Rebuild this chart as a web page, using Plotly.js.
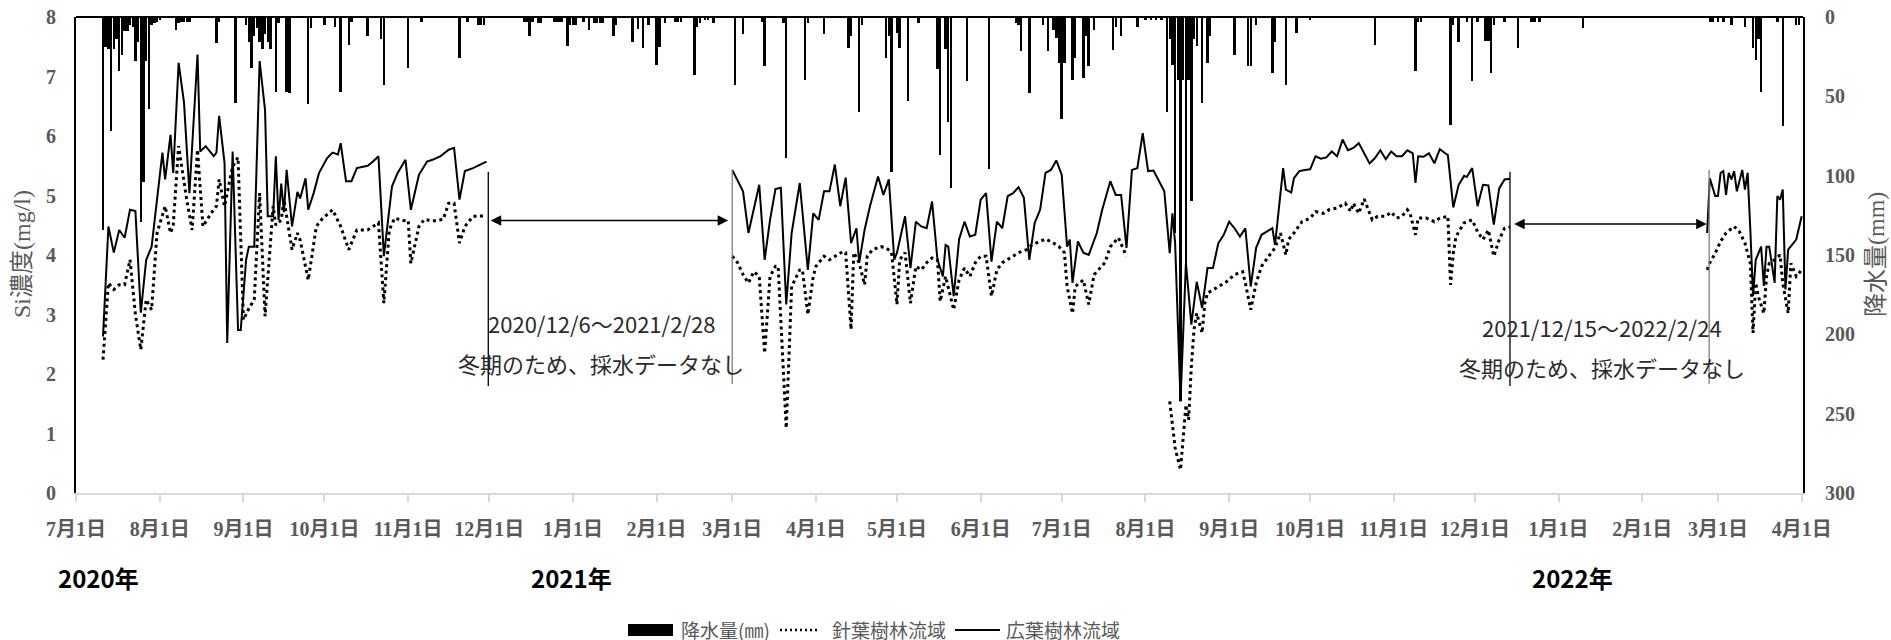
<!DOCTYPE html>
<html>
<head>
<meta charset="utf-8">
<script src="https://cdn.plot.ly/plotly-3.0.1.min.js"></script>
<style>html,body{margin:0;padding:0;background:#fff;}</style>
</head>
<body>
<div id="chart" style="width:1891px;height:640px;"></div>
<script>
// ---------- DATA ----------
// Precipitation (mm), daily
const precipDates = [
'2020-07-11','2020-07-12','2020-07-13','2020-07-14','2020-07-15','2020-07-16','2020-07-17','2020-07-18','2020-07-19','2020-07-20',
'2020-07-21','2020-07-22','2020-07-23','2020-07-24','2020-07-25','2020-07-26','2020-07-27','2020-07-28','2020-07-29','2020-07-30',
'2020-07-31','2020-08-01','2020-08-07','2020-08-08','2020-08-09','2020-08-10','2020-08-11','2020-08-12','2020-08-22','2020-08-23',
'2020-08-29','2020-09-02','2020-09-03','2020-09-04','2020-09-05','2020-09-06','2020-09-07','2020-09-08','2020-09-09','2020-09-10',
'2020-09-11','2020-09-13','2020-09-14','2020-09-17','2020-09-18','2020-09-25','2020-09-26','2020-10-01','2020-10-05','2020-10-07',
'2020-10-10','2020-10-11','2020-10-17','2020-10-22','2020-10-23','2020-11-01','2020-11-06','2020-11-20','2020-11-23','2020-11-27',
'2020-11-28','2020-11-29','2020-12-14','2020-12-15','2020-12-16','2020-12-17','2020-12-19','2020-12-20','2020-12-25','2020-12-26',
'2020-12-27','2020-12-28','2020-12-30','2020-12-31','2021-01-01','2021-01-02','2021-01-05','2021-01-07','2021-01-09','2021-01-10',
'2021-01-11','2021-01-12','2021-01-16','2021-01-17','2021-01-23','2021-01-25','2021-01-27','2021-01-29','2021-02-01','2021-02-02',
'2021-02-04','2021-02-08','2021-02-09','2021-02-10','2021-02-15','2021-02-16','2021-02-17','2021-02-19','2021-02-20','2021-02-22',
'2021-03-02','2021-03-05','2021-03-12','2021-03-13','2021-03-20','2021-03-21','2021-03-28','2021-03-29','2021-04-04','2021-04-13',
'2021-04-14','2021-04-17','2021-04-18','2021-04-27','2021-04-28','2021-04-29','2021-05-01','2021-05-02','2021-05-05','2021-05-09',
'2021-05-16','2021-05-17','2021-05-19','2021-05-20','2021-05-21','2021-05-27','2021-06-04','2021-06-14','2021-06-15','2021-06-16',
'2021-06-19','2021-06-24','2021-06-26','2021-06-28','2021-06-29','2021-06-30','2021-07-01','2021-07-02','2021-07-05','2021-07-06',
'2021-07-09','2021-07-10','2021-07-11','2021-07-13','2021-07-20','2021-07-21','2021-07-23','2021-07-29','2021-08-01','2021-08-03',
'2021-08-05','2021-08-07','2021-08-09','2021-08-10','2021-08-11','2021-08-12','2021-08-13','2021-08-14','2021-08-15','2021-08-16',
'2021-08-17','2021-08-18','2021-08-19','2021-08-20','2021-08-22','2021-08-24','2021-08-25','2021-09-03','2021-09-08','2021-09-09',
'2021-09-11','2021-09-17','2021-09-18','2021-09-22','2021-09-26','2021-10-01','2021-10-25','2021-11-09','2021-11-10','2021-11-11',
'2021-11-22','2021-11-23','2021-11-25','2021-11-28','2021-11-30','2021-12-02','2021-12-05','2021-12-06','2021-12-07','2021-12-08',
'2021-12-12','2021-12-17','2021-12-22','2021-12-23','2021-12-25','2022-01-10','2022-02-26','2022-02-27','2022-03-01','2022-03-03',
'2022-03-06','2022-03-11','2022-03-14','2022-03-15','2022-03-16','2022-03-17','2022-03-23','2022-03-25','2022-03-30','2022-03-31'
];
const precipMm = [
134,19,20,72,20,14,34,24,9,9,
5,6,28,16,129,104,28,58,5,4,
3,2,8,4,3,3,3,3,16.5,3,
54,5,16,32,12,7,16,20,11,16,
20,47,4,47,48,55,7,5,6,47,
17.5,3,12,14,42.7,32,3,26,3,5,
5,5,3,3,11.8,3,4,4,3,3,
3,3,18,5,5,5,3,8.4,4,4,
4,4,12,5,16,7.6,19.5,5,30,19,
4,3,3,3,36.4,6,4,2,2,4,
42.7,11,3,31,4,89,39.5,4,11,19.5,
12,60,5,26,12,98,10,19.5,53,4,
33,87,20,66,108,40.6,96,4,5,21.6,
48,5,21.6,8,13,29,64,29,39.5,26,
38.6,12,31,8,20.6,6,12,6,2,2,
2,2,60,14,30,136,40,242,40,155,
40,116,14,18,54,29,12,24,31,31,
5,35,16,42.7,10,2,17.5,34,3,3,
68,5,15.5,3,40.6,3,15,15,35,5,
3,19.5,3,3,3,7,3,3,3,3,
5,6,19.5,27,14,47,3,69,5,5
];

// Si concentration, broadleaf forest basin (solid)
const broad2020Dates = ['2020-07-11','2020-07-13','2020-07-15','2020-07-17','2020-07-19','2020-07-21','2020-07-23','2020-07-25','2020-07-27','2020-07-29',
'2020-08-02','2020-08-03','2020-08-05','2020-08-06','2020-08-08','2020-08-10','2020-08-12','2020-08-15','2020-08-16','2020-08-18',
'2020-08-21','2020-08-22','2020-08-23','2020-08-25','2020-08-26','2020-08-28','2020-08-30','2020-08-31','2020-09-02','2020-09-03',
'2020-09-05','2020-09-07','2020-09-09','2020-09-10','2020-09-12','2020-09-13','2020-09-14','2020-09-15','2020-09-16','2020-09-17',
'2020-09-19','2020-09-21','2020-09-22','2020-09-24','2020-09-25','2020-09-27','2020-09-29','2020-10-02','2020-10-04','2020-10-06',
'2020-10-07','2020-10-09','2020-10-11','2020-10-13','2020-10-17','2020-10-19','2020-10-21','2020-10-23','2020-10-26','2020-10-28',
'2020-10-31','2020-11-02','2020-11-05','2020-11-08','2020-11-10','2020-11-13','2020-11-16','2020-11-18','2020-11-20','2020-11-22',
'2020-11-25','2020-11-28','2020-11-30'];
const broad2020Vals = [2.63,4.48,4.04,4.42,4.29,4.76,4.74,3.03,3.92,4.14,
5.72,5.27,6.02,5.38,7.23,6.56,5.04,7.37,5.74,5.83,
5.66,5.72,6.34,5.55,2.52,5.74,2.74,2.74,3.92,4.14,
4.14,7.26,6.44,4.65,4.65,5.66,4.59,5.2,4.72,5.43,
4.48,5.06,4.95,5.29,4.76,5.04,5.38,5.63,5.72,5.69,
5.88,5.24,5.24,5.46,5.5,5.57,5.66,3.98,5.15,5.37,
5.6,4.76,5.35,5.57,5.6,5.66,5.77,5.8,4.93,5.41,
5.46,5.52,5.57];

const broad2021Dates = ['2021-03-01','2021-03-05','2021-03-07','2021-03-11','2021-03-13','2021-03-15','2021-03-17','2021-03-19','2021-03-21','2021-03-23',
'2021-03-26','2021-03-29','2021-03-31','2021-04-02','2021-04-04','2021-04-06','2021-04-08','2021-04-10','2021-04-12','2021-04-14',
'2021-04-16','2021-04-17','2021-04-19','2021-04-21','2021-04-24','2021-04-26','2021-04-28','2021-04-30','2021-05-01','2021-05-04',
'2021-05-06','2021-05-08','2021-05-10','2021-05-12','2021-05-14','2021-05-16','2021-05-18','2021-05-19','2021-05-20','2021-05-22',
'2021-05-24','2021-05-26','2021-05-28','2021-05-30','2021-06-01','2021-06-03','2021-06-05','2021-06-07','2021-06-09','2021-06-11',
'2021-06-13','2021-06-15','2021-06-17','2021-06-19','2021-06-21','2021-06-23','2021-06-25','2021-06-27','2021-06-29','2021-07-01',
'2021-07-03','2021-07-04','2021-07-05','2021-07-07','2021-07-09','2021-07-11','2021-07-14','2021-07-16','2021-07-19','2021-07-21',
'2021-07-23','2021-07-25','2021-07-27','2021-07-29','2021-07-31','2021-08-02','2021-08-04','2021-08-06','2021-08-08','2021-08-10',
'2021-08-11','2021-08-12','2021-08-14','2021-08-16','2021-08-18','2021-08-20','2021-08-22','2021-08-24','2021-08-26','2021-08-28',
'2021-08-30','2021-09-01','2021-09-03','2021-09-05','2021-09-07','2021-09-09','2021-09-11','2021-09-13','2021-09-15','2021-09-17',
'2021-09-18','2021-09-21','2021-09-22','2021-09-24','2021-09-25','2021-09-27','2021-09-29','2021-10-01','2021-10-03','2021-10-05',
'2021-10-07','2021-10-09','2021-10-11','2021-10-13','2021-10-15','2021-10-17','2021-10-19','2021-10-21','2021-10-23','2021-10-25',
'2021-10-27','2021-10-29','2021-10-31','2021-11-02','2021-11-04','2021-11-06','2021-11-08','2021-11-09','2021-11-10','2021-11-12',
'2021-11-14','2021-11-16','2021-11-18','2021-11-20','2021-11-21','2021-11-23','2021-11-25','2021-11-27','2021-11-28','2021-11-30',
'2021-12-02','2021-12-04','2021-12-06','2021-12-08','2021-12-10','2021-12-12','2021-12-14'];
const broad2021Vals = [5.43,5.07,4.37,5.18,3.92,4.59,5.11,5.13,3.17,4.37,
5.21,3.75,4.7,4.59,5.07,5.07,5.52,4.82,5.3,4.2,
4.45,3.87,4.42,4.82,5.32,5.01,5.27,3.92,4.04,4.65,
3.78,4.56,4.48,4.45,4.9,3.92,3.64,4.17,4.14,3.31,
4.26,4.56,4.31,4.34,4.93,5.04,3.89,4.56,4.45,4.99,
5.04,5.14,4.96,3.92,4.54,4.76,5.38,5.43,5.59,5.35,
4.14,4.26,3.53,4.23,4.04,4.0,4.37,4.76,5.24,5.01,
5.01,4.12,5.43,5.46,6.05,5.41,5.42,5.24,5.07,4.03,
4.7,4.2,1.54,3.87,2.83,3.55,3.11,3.78,3.78,4.2,
4.34,4.56,4.45,4.31,4.45,3.47,4.12,4.34,4.39,4.45,
4.17,5.46,5.1,5.05,5.29,5.41,5.43,5.44,5.66,5.62,
5.64,5.74,5.66,5.94,5.76,5.8,5.88,5.71,5.54,5.63,
5.76,5.61,5.74,5.66,5.66,5.76,5.71,5.21,5.66,5.65,
5.71,5.54,5.78,5.71,5.68,4.8,5.18,5.33,5.31,5.46,
4.82,5.18,5.17,4.51,5.12,5.27,5.28];

const broad2022Dates = ['2022-02-25','2022-02-26','2022-02-28','2022-03-01','2022-03-02','2022-03-03','2022-03-04','2022-03-05','2022-03-06','2022-03-07',
'2022-03-08','2022-03-10','2022-03-11','2022-03-12','2022-03-13','2022-03-14','2022-03-15','2022-03-17','2022-03-18','2022-03-19',
'2022-03-20','2022-03-22','2022-03-23','2022-03-24','2022-03-25','2022-03-26','2022-03-27','2022-03-29','2022-03-30','2022-04-01'];
const broad2022Vals = [4.37,5.29,4.99,4.99,5.38,5.41,5.01,5.38,5.27,5.41,
5.07,5.43,5.1,5.38,4.42,3.31,3.92,4.14,3.48,4.14,
4.14,3.53,4.99,4.93,5.1,3.42,4.09,4.2,4.26,4.65];

// Si concentration, coniferous forest basin (dotted)
const conif2020Dates = ['2020-07-11','2020-07-13','2020-07-15','2020-07-17','2020-07-19','2020-07-21','2020-07-23','2020-07-25','2020-07-27','2020-07-29',
'2020-07-31','2020-08-03','2020-08-05','2020-08-06','2020-08-08','2020-08-11','2020-08-13','2020-08-15','2020-08-17','2020-08-20',
'2020-08-22','2020-08-23','2020-08-25','2020-08-28','2020-08-30','2020-09-01','2020-09-03','2020-09-05','2020-09-07','2020-09-09',
'2020-09-12','2020-09-13','2020-09-15','2020-09-16','2020-09-19','2020-09-21','2020-09-22','2020-09-25','2020-09-28','2020-09-30',
'2020-10-04','2020-10-07','2020-10-10','2020-10-13','2020-10-17','2020-10-21','2020-10-23','2020-10-25','2020-10-27','2020-10-30',
'2020-11-01','2020-11-02','2020-11-05','2020-11-07','2020-11-10','2020-11-14','2020-11-16','2020-11-18','2020-11-20','2020-11-22',
'2020-11-25','2020-11-29','2020-11-30'];
const conif2020Vals = [2.24,3.53,3.42,3.5,3.5,3.92,3.0,2.41,3.25,3.08,
4.37,4.82,4.37,4.5,5.83,4.93,4.42,5.77,4.48,4.7,
4.82,5.27,4.82,5.49,5.64,2.91,3.1,3.25,5.04,2.97,
4.82,4.5,4.59,4.93,4.09,4.37,4.25,3.58,4.48,4.6,
4.76,4.48,4.09,4.42,4.42,4.54,3.19,4.42,4.62,4.58,
4.58,3.86,4.48,4.6,4.57,4.6,4.87,4.87,4.2,4.48,
4.65,4.65,4.66];

const conif2021aDates = ['2021-03-01','2021-03-03','2021-03-05','2021-03-07','2021-03-09','2021-03-11','2021-03-13','2021-03-15','2021-03-17','2021-03-18',
'2021-03-21','2021-03-23','2021-03-26','2021-03-27','2021-03-29','2021-03-31','2021-04-01','2021-04-04','2021-04-06','2021-04-08',
'2021-04-11','2021-04-12','2021-04-14','2021-04-15','2021-04-17','2021-04-19','2021-04-20','2021-04-22','2021-04-25','2021-04-27',
'2021-04-29','2021-05-01','2021-05-02','2021-05-04','2021-05-06','2021-05-08','2021-05-10','2021-05-12','2021-05-14','2021-05-16',
'2021-05-17','2021-05-19','2021-05-22','2021-05-24','2021-05-26','2021-05-28','2021-05-30','2021-06-01','2021-06-03','2021-06-05',
'2021-06-07','2021-06-09','2021-06-11','2021-06-13','2021-06-15','2021-06-18','2021-06-20','2021-06-23','2021-06-25','2021-06-28',
'2021-06-30','2021-07-02','2021-07-03','2021-07-05','2021-07-06','2021-07-09','2021-07-11','2021-07-13','2021-07-14','2021-07-17',
'2021-07-19','2021-07-22','2021-07-25'];
const conif2021aVals = [3.98,3.87,3.67,3.53,3.72,3.64,2.35,3.64,3.81,3.81,
1.09,3.47,3.75,3.75,3.0,3.64,3.81,3.98,3.92,3.98,
4.06,4.04,2.75,4.04,3.87,3.5,3.98,4.09,4.14,4.12,
4.04,3.17,3.92,4.04,3.19,3.81,3.75,3.87,3.95,3.92,
3.22,3.64,3.08,3.58,3.78,3.64,3.87,3.98,3.98,3.31,
3.75,3.87,3.92,3.98,4.04,4.09,4.17,4.23,4.27,4.2,
4.14,4.04,3.47,3.02,3.47,3.58,3.17,3.67,3.72,3.87,
4.14,4.29,3.98];

const conif2021bDates = ['2021-08-10','2021-08-11','2021-08-12','2021-08-14','2021-08-15','2021-08-16','2021-08-17','2021-08-18','2021-08-19','2021-08-20',
'2021-08-21','2021-08-22','2021-08-23','2021-08-24','2021-08-27','2021-08-31','2021-09-03','2021-09-06','2021-09-07','2021-09-09',
'2021-09-11','2021-09-13','2021-09-16','2021-09-18','2021-09-20','2021-09-22','2021-09-23','2021-09-25','2021-09-28','2021-10-01',
'2021-10-03','2021-10-06','2021-10-08','2021-10-11','2021-10-14','2021-10-16','2021-10-17','2021-10-19','2021-10-21','2021-10-23',
'2021-10-24','2021-10-26','2021-10-29','2021-10-31','2021-11-02','2021-11-04','2021-11-06','2021-11-07','2021-11-09','2021-11-10',
'2021-11-13','2021-11-16','2021-11-18','2021-11-21','2021-11-22','2021-11-23','2021-11-24','2021-11-27','2021-11-30','2021-12-02',
'2021-12-04','2021-12-06','2021-12-08','2021-12-10','2021-12-12','2021-12-14'];
const conif2021bVals = [1.54,1.18,0.76,0.39,1.01,1.48,1.23,2.13,2.75,3.02,
2.85,2.69,3.19,3.36,3.44,3.55,3.67,3.72,3.53,3.08,
3.53,3.81,4.0,4.12,4.37,4.0,4.26,4.37,4.56,4.62,
4.73,4.7,4.76,4.79,4.87,4.73,4.87,4.7,4.94,4.7,
4.59,4.65,4.65,4.72,4.62,4.65,4.76,4.7,4.34,4.62,
4.62,4.56,4.62,4.65,3.5,4.03,4.31,4.54,4.59,4.39,
4.26,4.42,3.98,4.26,4.45,4.47];

const conif2022Dates = ['2022-02-25','2022-02-26','2022-02-28','2022-03-02','2022-03-04','2022-03-06','2022-03-07','2022-03-09','2022-03-11','2022-03-13',
'2022-03-14','2022-03-15','2022-03-16','2022-03-18','2022-03-19','2022-03-20','2022-03-22','2022-03-24','2022-03-25','2022-03-27',
'2022-03-28','2022-03-30','2022-04-01'];
const conif2022Vals = [3.75,3.87,4.03,4.23,4.37,4.45,4.48,4.39,4.2,3.86,
2.69,3.53,3.3,3.02,3.64,3.86,3.92,4.0,3.53,3.02,
3.86,3.64,3.75];

// Axis ticks
const monthTicks = ['2020-07-01','2020-08-01','2020-09-01','2020-10-01','2020-11-01','2020-12-01','2021-01-01','2021-02-01','2021-03-01','2021-04-01',
'2021-05-01','2021-06-01','2021-07-01','2021-08-01','2021-09-01','2021-10-01','2021-11-01','2021-12-01','2022-01-01','2022-02-01','2022-03-01','2022-04-01'];
const monthLabels = ['7月1日','8月1日','9月1日','10月1日','11月1日','12月1日','1月1日','2月1日','3月1日','4月1日',
'5月1日','6月1日','7月1日','8月1日','9月1日','10月1日','11月1日','12月1日','1月1日','2月1日','3月1日','4月1日'];
const yearLabels = ['2020年','2021年','2022年'];

// Winter gaps (no sampling)
const gapLineDates = [['2020-11-30 16:00','2021-03-01'],['2021-12-14','2022-02-25 18:00']];
const gapArrowDates = [['2020-12-01','2021-02-27 12:00'],['2021-12-15','2022-02-24 20:00']];
const gapTexts = ['2020/12/6～2021/2/28','2021/12/15～2022/2/24'];
const gapTextCenters = ['2021-01-11 10:00','2022-01-16 22:00'];
const gapNote = '冬期のため、採水データなし';

// ---------- helpers ----------
function joinSegs(dateSegs, valSegs){
  const x=[], y=[];
  dateSegs.forEach((d,i)=>{
    if(i>0){ x.push(null); y.push(null); }
    x.push(...d); y.push(...valSegs[i]);
  });
  return {x,y};
}
const broad = joinSegs([broad2020Dates,broad2021Dates,broad2022Dates],[broad2020Vals,broad2021Vals,broad2022Vals]);
const conif = joinSegs([conif2020Dates,conif2021aDates,conif2021bDates,conif2022Dates],[conif2020Vals,conif2021aVals,conif2021bVals,conif2022Vals]);

const DAY = 86400000;
const tickFont = {family:'Liberation Serif, Noto Sans CJK JP, serif', size:20, color:'#595959', weight:700};
const jpFont = {family:'Noto Sans CJK JP, sans-serif', size:22, color:'#2b2b2b'};

const traces = [
  {type:'bar', name:'降水量(㎜)', x:precipDates, y:precipMm, yaxis:'y2',
   marker:{color:'#000', line:{width:0}}, width:DAY*0.9, showlegend:false, hoverinfo:'skip'},
  {type:'scatter', mode:'lines', name:'針葉樹林流域', x:conif.x, y:conif.y,
   line:{color:'#000', width:3, dash:'3px,3.5px'}, connectgaps:false, showlegend:false},
  {type:'scatter', mode:'lines', name:'広葉樹林流域', x:broad.x, y:broad.y,
   line:{color:'#000', width:2}, connectgaps:false, showlegend:false}
];

// plot area geometry in px for paper conversions
const L=76, R=1803, T=17, B=493;
const px2xp = p => (p-L)/(R-L);
const px2yp = p => (B-p)/(B-T);

const shapes = [
  {type:'line', xref:'paper', yref:'paper', x0:0, x1:1, y0:1, y1:1, line:{color:'#000', width:2}},
];
gapLineDates.forEach((pair,i)=>{
  shapes.push({type:'line', xref:'x', yref:'y', x0:pair[0], x1:pair[0], y0:5.4, y1:1.8, line:{color:'#000', width:1.3}});
  shapes.push({type:'line', xref:'x', yref:'y', x0:pair[1], x1:pair[1], y0:5.43, y1:1.83, line:{color:'#7f7f7f', width:1.3}});
});
// manual legend
shapes.push({type:'rect', xref:'paper', yref:'paper', x0:px2xp(628), x1:px2xp(673), y0:px2yp(636), y1:px2yp(624), fillcolor:'#000', line:{width:0}});
shapes.push({type:'line', xref:'paper', yref:'paper', x0:px2xp(780), x1:px2xp(820), y0:px2yp(630), y1:px2yp(630), line:{color:'#000', width:2.5, dash:'2px,3px'}});
shapes.push({type:'line', xref:'paper', yref:'paper', x0:px2xp(955), x1:px2xp(1000), y0:px2yp(630), y1:px2yp(630), line:{color:'#000', width:2}});

const legFont = {family:'Noto Sans CJK JP, sans-serif', size:19, color:'#595959'};
const titleFont = {family:'Liberation Serif, Noto Sans CJK JP, serif', size:24, color:'#595959'};
const yearFont = {family:'Noto Sans CJK JP, sans-serif', size:24, color:'#000', weight:700};
const annotations = [
  {xref:'paper', yref:'paper', x:px2xp(679), y:px2yp(630), xanchor:'left', yanchor:'middle', text:traces[0].name, showarrow:false, font:legFont},
  {xref:'paper', yref:'paper', x:px2xp(830), y:px2yp(630), xanchor:'left', yanchor:'middle', text:traces[1].name, showarrow:false, font:legFont},
  {xref:'paper', yref:'paper', x:px2xp(1004), y:px2yp(630), xanchor:'left', yanchor:'middle', text:traces[2].name, showarrow:false, font:legFont},
  // axis titles
  {xref:'paper', yref:'paper', x:px2xp(22), y:px2yp(254), xanchor:'center', yanchor:'middle', textangle:-90, showarrow:false,
   text:'Si濃度(mg/l)', font:titleFont},
  {xref:'paper', yref:'paper', x:px2xp(1876), y:px2yp(255), xanchor:'center', yanchor:'middle', textangle:-90, showarrow:false,
   text:'降水量(mm)', font:titleFont},
  // year labels
  {xref:'paper', yref:'paper', x:px2xp(98), y:px2yp(577), xanchor:'center', yanchor:'middle', showarrow:false, text:yearLabels[0], font:yearFont},
  {xref:'paper', yref:'paper', x:px2xp(571), y:px2yp(577), xanchor:'center', yanchor:'middle', showarrow:false, text:yearLabels[1], font:yearFont},
  {xref:'paper', yref:'paper', x:px2xp(1572), y:px2yp(577), xanchor:'center', yanchor:'middle', showarrow:false, text:yearLabels[2], font:yearFont}
];
const arrowY = [4.58, 4.52];
const textY = [[2.86,2.19],[2.79,2.11]];
gapArrowDates.forEach((pair,i)=>{
  annotations.push({xref:'x', yref:'y', axref:'x', ayref:'y', x:pair[1], y:arrowY[i], ax:pair[0], ay:arrowY[i],
    text:'', showarrow:true, arrowhead:2, startarrowhead:2, arrowside:'end+start', arrowsize:1.4, startarrowsize:1.4,
    arrowwidth:1.5, arrowcolor:'#000', standoff:0, startstandoff:0});
  annotations.push({xref:'x', yref:'y', x:gapTextCenters[i], y:textY[i][0], text:gapTexts[i], showarrow:false,
    xanchor:'center', yanchor:'middle', font:jpFont});
  annotations.push({xref:'x', yref:'y', x:gapTextCenters[i], y:textY[i][1], text:gapNote, showarrow:false,
    xanchor:'center', yanchor:'middle', font:jpFont});
});

const layout = {
  width:1891, height:640,
  margin:{l:L, r:1891-R, t:T, b:640-B, pad:0},
  paper_bgcolor:'#fff', plot_bgcolor:'#fff',
  showlegend:false,
  bargap:0,
  xaxis:{type:'date', range:['2020-07-01','2022-04-01 12:00'], tickmode:'array', tickvals:monthTicks, ticktext:monthLabels,
    showgrid:false, zeroline:false, showline:true, linecolor:'#d9d9d9', linewidth:2,
    ticks:'outside', ticklen:7, tickwidth:2, tickcolor:'#d9d9d9', tickfont:tickFont, ticklabelstandoff:10},
  yaxis:{range:[0,8], dtick:1, tick0:0, showgrid:false, zeroline:false, showline:true, linecolor:'#000', linewidth:2,
    ticks:'', tickfont:tickFont, ticklabelstandoff:14},
  yaxis2:{overlaying:'y', side:'right', range:[300,0], dtick:50, tick0:0, showgrid:false, zeroline:false,
    showline:true, linecolor:'#000', linewidth:2, ticks:'', tickfont:tickFont, ticklabelstandoff:16},
  shapes:shapes,
  annotations:annotations
};

Plotly.newPlot('chart', traces, layout, {staticPlot:true, displayModeBar:false});
</script>
</body>
</html>
